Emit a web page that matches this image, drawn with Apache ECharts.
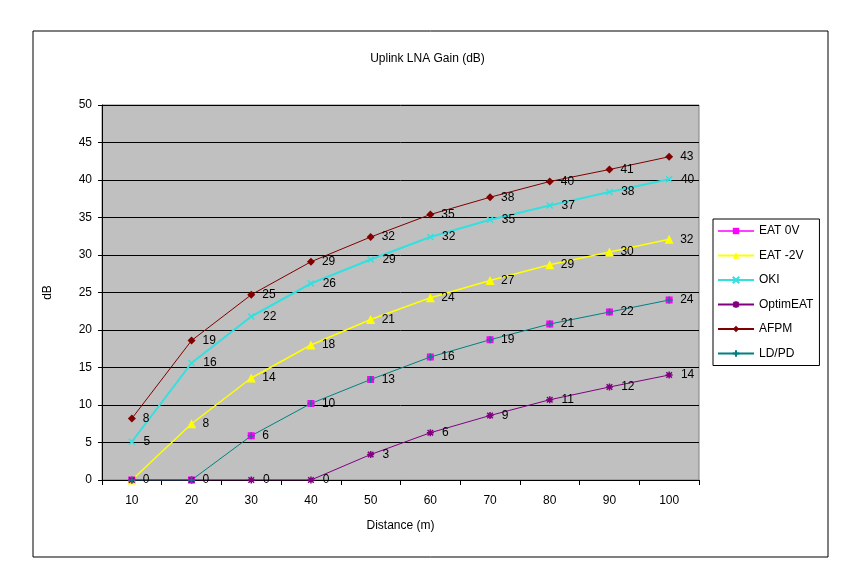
<!DOCTYPE html>
<html>
<head>
<meta charset="utf-8">
<script src="https://cdn.jsdelivr.net/npm/echarts@6/dist/echarts.min.js"></script>
<style>
html,body{margin:0;padding:0;background:#fff;}
#chart{width:855px;height:577px;}
</style>
</head>
<body>
<div id="chart"></div>
<script>
const categories = ['10','20','30','40','50','60','70','80','90','100'];
const eat0V    = [0, 0, 5.9, 10.2, 13.4, 16.4, 18.7, 20.8, 22.4, 24.0];
const eatMinus2V = [0, 7.5, 13.6, 18.0, 21.4, 24.3, 26.6, 28.7, 30.4, 32.1];
const oki      = [5.1, 15.6, 21.8, 26.2, 29.4, 32.4, 34.7, 36.6, 38.4, 40.1];
const optimEAT = [0, 0, 0, 0, 3.4, 6.3, 8.6, 10.7, 12.4, 14.0];
const afpm     = [8.2, 18.6, 24.7, 29.1, 32.4, 35.4, 37.7, 39.8, 41.4, 43.1];
const ldpd     = [0, 0, 5.9, 10.2, 13.4, 16.4, 18.7, 20.8, 22.4, 24.0];
const yTicks   = [0, 5, 10, 15, 20, 25, 30, 35, 40, 45, 50];

const FONT = 'Liberation Sans, Arial, sans-serif';
const xSym = 'path://M0,0L10,10M10,0L0,10';
const starSym = 'path://M5,0L5,10M0,5L10,5M1,1L9,9M9,1L1,9';
const plusSym = 'path://M5,0L5,10M0,5L10,5';

// labels of coincident "0" points are shown once (by the series listed first)
function mk(name, data, color, symbol, size, width, showLabel, strokeSym, hideLine, hideIdx) {
  const hidden = hideIdx || [];
  return {
    name: name, type: 'line', data: data,
    symbol: symbol, symbolSize: size,
    showAllSymbol: true,
    lineStyle: {color: color, width: width, opacity: hideLine ? 0 : 1},
    itemStyle: strokeSym ? {color: color, borderColor: color, borderWidth: 1.5} : {color: color, borderColor: color, borderWidth: 0},
    color: color,
    label: {
      show: showLabel, position: 'right', distance: 11 - size / 2,
      color: '#000', fontFamily: FONT, fontSize: 12,
      formatter: p => hidden.includes(p.dataIndex) ? '' : String(Math.round(p.value))
    },
    emphasis: {disabled: true},
    animation: false
  };
}

const chart = echarts.init(document.getElementById('chart'), null, {renderer: 'canvas'});
chart.setOption({
  animation: false,
  backgroundColor: '#fff',
  graphic: [{
    type: 'rect', shape: {x: 33, y: 31, width: 795, height: 526},
    style: {fill: 'none', stroke: '#000', lineWidth: 1}, z: -1
  }],
  title: {
    text: 'Uplink LNA Gain (dB)', left: 'center', top: 48,
    textStyle: {fontFamily: FONT, fontSize: 12, fontWeight: 'normal', color: '#000'}
  },
  grid: {
    left: 102, top: 105, right: 156, bottom: 97,
    show: true, backgroundColor: '#C0C0C0', borderColor: '#808080', borderWidth: 1
  },
  legend: {
    orient: 'vertical', left: 713, top: 219,
    width: 112,
    padding: [6, 6, 6, 4],
    itemWidth: 36, itemHeight: 8, itemGap: 12.5,
    backgroundColor: '#fff', borderColor: '#000', borderWidth: 1,
    textStyle: {fontFamily: FONT, fontSize: 12, color: '#000'},
    data: [
      {name: 'EAT 0V', lineStyle: {color: '#FF00FF', width: 1.5, opacity: 1}},
      'EAT -2V', 'OKI', 'OptimEAT', 'AFPM', 'LD/PD'
    ]
  },
  xAxis: {
    type: 'category', data: categories, boundaryGap: true,
    name: 'Distance (m)', nameLocation: 'middle', nameGap: 40,
    nameTextStyle: {fontFamily: FONT, fontSize: 12, color: '#000'},
    axisLine: {lineStyle: {color: '#000', width: 1}},
    axisTick: {show: true, length: 5, inside: false, lineStyle: {color: '#000'}},
    axisLabel: {fontFamily: FONT, fontSize: 12, color: '#000', margin: 15},
    splitLine: {show: false}
  },
  yAxis: {
    type: 'value', min: 0, max: 50, interval: 5,
    name: 'dB', nameLocation: 'middle', nameGap: 48,
    nameTextStyle: {fontFamily: FONT, fontSize: 12, color: '#000'},
    axisLine: {show: true, lineStyle: {color: '#000', width: 1}},
    axisTick: {show: true, length: 4, inside: false, lineStyle: {color: '#000'}},
    axisLabel: {fontFamily: FONT, fontSize: 12, color: '#000', margin: 10,
      formatter: v => yTicks.includes(v) ? String(v) : ''},
    splitLine: {show: true, lineStyle: {color: '#000', width: 1}}
  },
  series: [
    mk('EAT 0V', eat0V, '#FF00FF', 'rect', 7, 1, true, false, true, []),
    mk('EAT -2V', eatMinus2V, '#FFFF00', 'triangle', 9, 1.5, true, false, false, [0]),
    mk('OKI', oki, '#33E0E0', xSym, 6, 2, true, true, false, []),
    mk('OptimEAT', optimEAT, '#800080', starSym, 7, 1, true, true, false, [0, 1]),
    mk('AFPM', afpm, '#800000', 'diamond', 8, 1, true, false, false, []),
    mk('LD/PD', ldpd, '#008080', plusSym, 7, 1, false, true, false, [])
  ]
});
</script>
</body>
</html>
